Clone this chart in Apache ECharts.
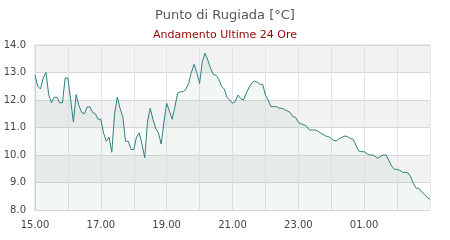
<!DOCTYPE html>
<html>
<head>
<meta charset="utf-8">
<script src="https://cdn.jsdelivr.net/npm/echarts@6/dist/echarts.min.js"></script>
<style>html,body{margin:0;padding:0;background:#fff}#c{width:450px;height:240px}</style>
</head>
<body>
<div id="c"></div>
<script>
var titleText = 'Punto di Rugiada [°C]';
var subtitleText = 'Andamento Ultime 24 Ore';
var yTicks = [8, 9, 10, 11, 12, 13, 14];
var xTickLabels = ['15.00', '17.00', '19.00', '21.00', '23.00', '01.00'];
// dew point readings, every 5 minutes from 15.00 to 03.00
var dewPoint = [
  12.9, 12.5, 12.4, 12.8, 13.0, 12.2, 11.9, 12.1, 12.1, 11.9,
  11.9, 12.8, 12.8, 12.0, 11.2, 12.2, 11.8, 11.55, 11.5, 11.75,
  11.75, 11.55, 11.5, 11.3, 11.3, 10.8, 10.5, 10.65, 10.1, 11.5,
  12.1, 11.7, 11.4, 10.5, 10.5, 10.2, 10.2, 10.65, 10.8, 10.4,
  9.9, 11.2, 11.7, 11.3, 10.97, 10.8, 10.4, 11.2, 11.88, 11.6,
  11.3, 11.75, 12.25, 12.3, 12.3, 12.4, 12.6, 13.0, 13.3, 13.0,
  12.6, 13.4, 13.7, 13.45, 13.15, 12.93, 12.9, 12.75, 12.5, 12.4,
  12.1, 12.0, 11.88, 11.95, 12.18, 12.05, 12.0, 12.25, 12.45, 12.62,
  12.69, 12.65, 12.57, 12.57, 12.18, 12.0, 11.76, 11.76, 11.76, 11.7,
  11.7, 11.65, 11.6, 11.55, 11.4, 11.37, 11.19, 11.13, 11.1, 11.05,
  10.91, 10.91, 10.91, 10.88, 10.81, 10.75, 10.69, 10.67, 10.6, 10.52,
  10.52, 10.6, 10.65, 10.69, 10.67, 10.6, 10.57, 10.35, 10.15, 10.12,
  10.12, 10.05, 10.0, 10.0, 9.95, 9.88, 9.95, 10.0, 10.0, 9.8,
  9.6, 9.48, 9.48, 9.45, 9.37, 9.37, 9.35, 9.2, 8.95, 8.79,
  8.79, 8.65, 8.58, 8.45, 8.39
];
var startHour = 15, stepMin = 5;
var categories = [];
for (var i = 0; i < dewPoint.length; i++) {
  var m = startHour * 60 + i * stepMin;
  var h = Math.floor(m / 60) % 24, mm = m % 60;
  categories.push((h < 10 ? '0' : '') + h + '.' + (mm < 10 ? '0' : '') + mm);
}
var chart = echarts.init(document.getElementById('c'), null, {renderer: 'canvas'});
var font = 'DejaVu Sans';
chart.setOption({
  animation: false,
  title: [
    {text: titleText, left: 'center', top: 4,
     textStyle: {fontFamily: font, fontSize: 13, fontWeight: 'normal', color: '#555555'}},
    {text: subtitleText, left: 'center', top: 25,
     textStyle: {fontFamily: font, fontSize: 11, fontWeight: 'normal', color: '#990000'}}
  ],
  grid: {left: 35, right: 20, top: 45, bottom: 30, show: true, borderColor: '#d6d6d6', borderWidth: 1, backgroundColor: 'transparent'},
  xAxis: {
    type: 'category', data: categories, boundaryGap: false,
    axisLine: {show: true, lineStyle: {color: '#d6d6d6'}},
    axisTick: {show: false},
    axisLabel: {
      fontFamily: font, fontSize: 10, color: '#444', margin: 10,
      interval: function (idx, val) { return xTickLabels.indexOf(val) >= 0; }
    },
    splitLine: {show: true, interval: function (idx) { return idx % 12 === 0 && idx > 0 && idx < 144; },
      lineStyle: {color: '#e2e2f4', width: 1}}
  },
  yAxis: {
    type: 'value', min: yTicks[0], max: yTicks[yTicks.length - 1], interval: 1,
    axisLine: {show: true, lineStyle: {color: '#d6d6d6'}},
    axisTick: {show: false},
    axisLabel: {fontFamily: font, fontSize: 10, color: '#444', margin: 9,
      formatter: function (v) { return v.toFixed(1); }},
    splitLine: {show: true, lineStyle: {color: '#d6d6d6'}},
    splitArea: {show: true, areaStyle: {color: ['#ffffff', '#f2f2f2']}}
  },
  series: [{
    type: 'line', data: dewPoint, symbol: 'none', smooth: false,
    lineStyle: {color: '#2f817e', width: 1},
    areaStyle: {color: 'rgba(150,185,165,0.17)', origin: 'start'}
  }]
});
</script>
</body>
</html>
